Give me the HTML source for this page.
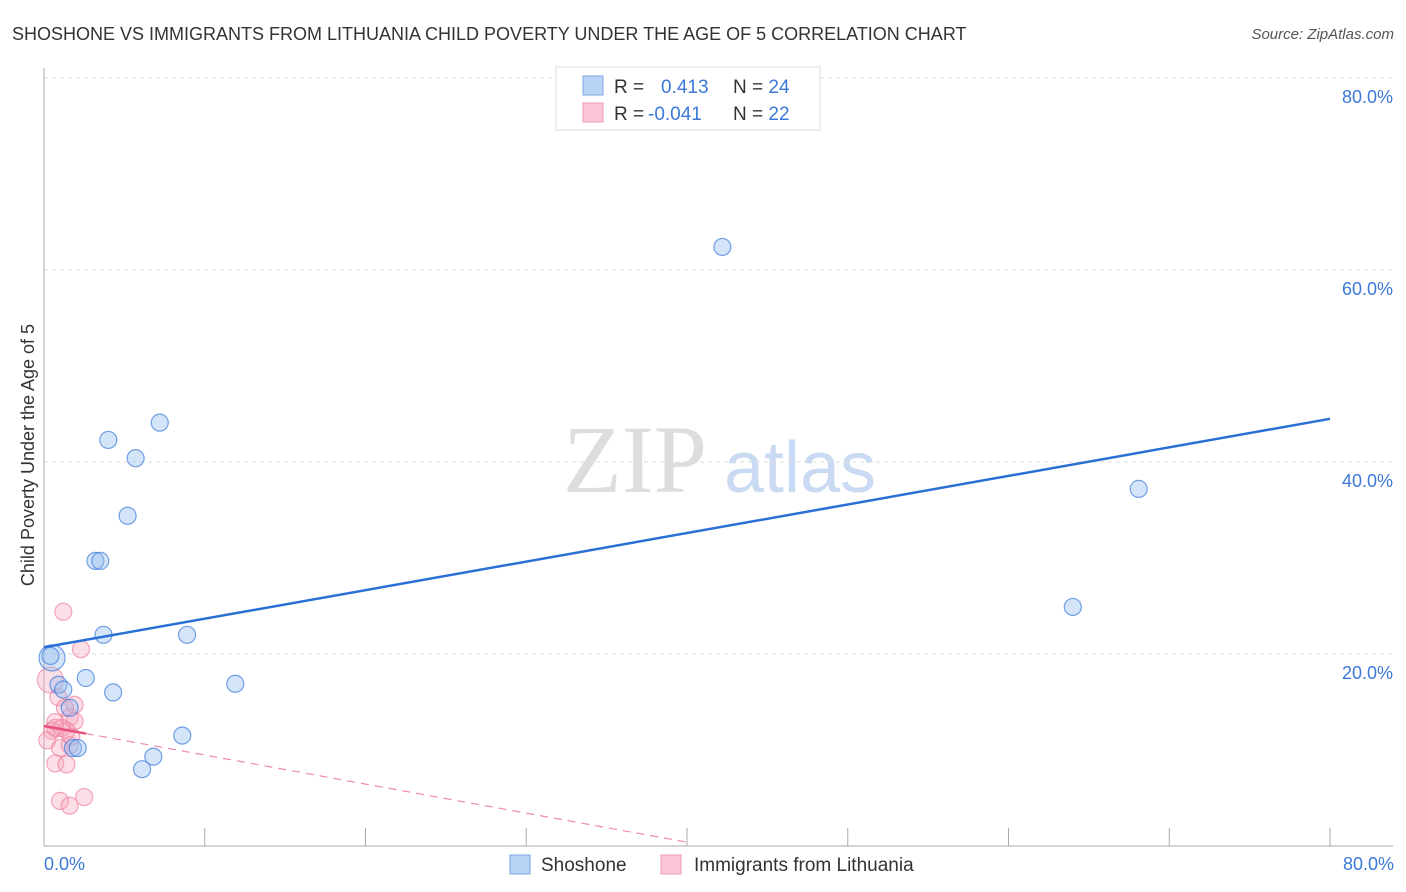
<!DOCTYPE html>
<html><head><meta charset="utf-8"><style>
body{margin:0;background:#fff;font-family:"Liberation Sans",sans-serif}
svg{display:block}
</style></head><body>
<svg width="1406" height="892">
<text x="12" y="40" font-size="18" fill="#333">SHOSHONE VS IMMIGRANTS FROM LITHUANIA CHILD POVERTY UNDER THE AGE OF 5 CORRELATION CHART</text>
<text x="1394" y="39" font-size="15" fill="#555" font-style="italic" text-anchor="end">Source: ZipAtlas.com</text>
<text x="635" y="492" font-size="96" fill="#ddd" font-family="Liberation Serif" text-anchor="middle">ZIP</text>
<text x="800" y="492" font-size="72" fill="#c9daf2" text-anchor="middle">atlas</text>
<g id="grid"></g>
<g id="axes"></g>
<g id="pts"></g>
<text transform="translate(34,455) rotate(-90)" font-size="18" fill="#333" text-anchor="middle">Child Poverty Under the Age of 5</text>
<text x="44" y="870" font-size="18" fill="#3b78d8">0.0%</text>
<text x="1394" y="870" font-size="18" fill="#3b78d8" text-anchor="end">80.0%</text>
<g>
<rect x="556" y="67" width="264" height="63" fill="#fff" stroke="#ddd"/>
<rect x="583" y="76" width="20" height="19" fill="#b9d3f5" stroke="#7da7e3"/>
<rect x="583" y="103" width="20" height="19" fill="#fbc6d5" stroke="#f19bb4"/>
<text x="614" y="93" font-size="19" fill="#333">R = <tspan fill="#3b78d8" x="661">0.413</tspan><tspan x="733" fill="#333">N = </tspan><tspan fill="#3b78d8">24</tspan></text>
<text x="614" y="120" font-size="19" fill="#333">R = <tspan fill="#3b78d8" x="648">-0.041</tspan><tspan x="733" fill="#333">N = </tspan><tspan fill="#3b78d8">22</tspan></text>
</g>
<g>
<rect x="510" y="855" width="20" height="19" fill="#b9d3f5" stroke="#7da7e3"/>
<text x="541" y="871" font-size="19" fill="#333">Shoshone</text>
<rect x="661" y="855" width="20" height="19" fill="#fbc6d5" stroke="#f19bb4"/>
<text x="694" y="871" font-size="19" fill="#333">Immigrants from Lithuania</text>
</g>
</svg>
<script>
const yTicks=[20,40,60,80];
const xTicks=[10,20,30,40,50,60,70,80];
const blueX=[42.2,7.2,4.0,5.7,5.2,3.2,3.5,3.7,8.9,68.1,64.0,0.5,0.4,2.6,4.3,0.9,1.2,11.9,1.6,1.8,2.1,8.6,6.8,6.1];
const blueY=[62.4,44.1,42.3,40.4,34.4,29.7,29.7,22.0,22.0,37.2,24.9,19.6,19.8,17.5,16.0,16.8,16.3,16.9,14.4,10.2,10.2,11.5,9.3,8.0];
const pinkX=[1.2,2.3,0.4,0.9,0.7,1.6,1.9,1.9,1.4,0.5,0.2,1.0,1.6,0.7,1.4,1.0,1.6,2.5,0.7,1.1,1.7,1.3];
const pinkY=[24.4,20.5,17.3,15.5,12.9,13.4,14.7,13.0,12.0,12.0,11.0,10.2,10.5,8.6,8.5,4.7,4.2,5.1,12.3,12.3,11.4,14.4];
const blueTrend=[20.7,44.5];
const pinkTrend=[12.5,0.4];
const NS='http://www.w3.org/2000/svg';
const X=v=>44+v*16.075, Y=v=>846-v*9.6;
function mk(t,a,p){const e=document.createElementNS(NS,t);for(const k in a)e.setAttribute(k,a[k]);p.appendChild(e);return e;}
const grid=document.getElementById('grid'),axes=document.getElementById('axes'),pts=document.getElementById('pts');
yTicks.forEach(v=>{
 const l=mk('line',{x1:44,x2:1393,y1:Y(v),y2:Y(v),stroke:'#ddd','stroke-dasharray':'4,4'},grid);
 
 
 const t=mk('text',{x:1393,y:Y(v)+25,'font-size':18,fill:'#3b78d8','text-anchor':'end'},grid);
 t.textContent=v.toFixed(1)+'%';
 
 
});
const ya=mk('line',{x1:44,x2:44,y1:68,y2:846,stroke:'#aaa'},axes);


const xa=mk('line',{x1:44,x2:1393,y1:846,y2:846,stroke:'#aaa'},axes);


xTicks.forEach(v=>{
 const t=mk('line',{x1:X(v),x2:X(v),y1:828,y2:846,stroke:'#aaa'},axes);
 
 
});
function dots(xs,ys,fill,stroke,name){
 xs.forEach((x,i)=>{
  const big=(name==='pink'&&i===2)||(name==='blue'&&i===11);
  const c=mk('circle',{cx:X(x),cy:Y(ys[i]),r:big?13:8.5,fill:fill,stroke:stroke,'stroke-width':1.2},pts);
  
  
 });
}
dots(pinkX,pinkY,'rgba(247,160,185,0.35)','rgba(240,130,160,0.7)','pink');
dots(blueX,blueY,'rgba(150,190,240,0.4)','rgba(70,130,220,0.75)','blue');
const bl=mk('line',{x1:X(0),y1:Y(blueTrend[0]),x2:X(80),y2:Y(blueTrend[1]),stroke:'#2a6fd6','stroke-width':2.5},pts);


const pd=mk('line',{x1:X(0),y1:Y(pinkTrend[0]),x2:X(40),y2:Y(pinkTrend[1]),stroke:'#f08aa8','stroke-width':1.2,'stroke-dasharray':'8,6'},pts);


const ps=mk('line',{x1:X(0),y1:Y(pinkTrend[0]),x2:X(2.6),y2:Y(pinkTrend[0]+(pinkTrend[1]-pinkTrend[0])*2.6/40),stroke:'#e8507a','stroke-width':2.5},pts);


</script>
</body></html>
